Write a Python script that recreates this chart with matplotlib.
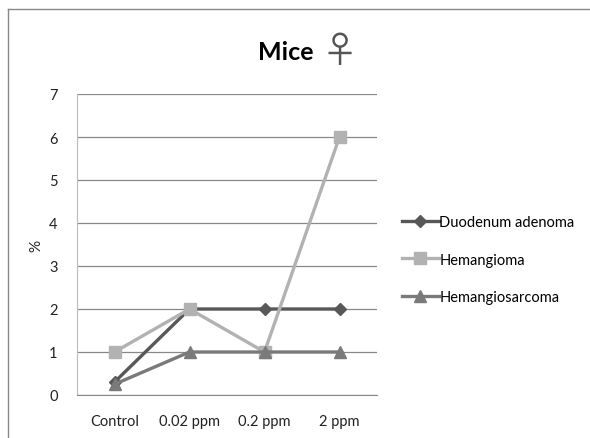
import matplotlib
matplotlib.use("Agg")
import matplotlib.pyplot as plt
from matplotlib.lines import Line2D

categories = ["Control", "0.02 ppm", "0.2 ppm", "2 ppm"]
duodenum_adenoma = [0.3, 2, 2, 2]
hemangioma = [1, 2, 1, 6]
hemangiosarcoma = [0.25, 1, 1, 1]
series_names = ["Duodenum adenoma", "Hemangioma", "Hemangiosarcoma"]

plt.rcParams["font.family"] = ["Lato", "DejaVu Sans"]

fig = plt.figure(figsize=(5.9, 4.39), dpi=100)
ax = fig.add_axes([77 / 590, 1 - 396 / 439, 300 / 590, 301 / 439])

x = list(range(len(categories)))
styles = [
    (duodenum_adenoma, "#585858", "D", 6.5),
    (hemangioma, "#b2b2b2", "s", 8.5),
    (hemangiosarcoma, "#7a7a7a", "^", 8.5),
]
for (vals, color, marker, ms), name in zip(styles, series_names):
    ax.plot(x, vals, color=color, lw=2.4, marker=marker, ms=ms,
            markeredgecolor=color, markerfacecolor=color, label=name)

ax.set_xlim(-0.5, len(categories) - 0.5)
ax.set_ylim(0, 7)
ax.set_yticks(range(8))
ax.set_xticks(x)
ax.set_xticklabels(categories)
ax.tick_params(length=0, labelsize=10.5, colors="#222222")
ax.tick_params(axis="x", pad=14)
ax.tick_params(axis="y", pad=14)
ax.grid(axis="y", color="#888888", lw=0.9)
ax.set_axisbelow(True)
for side in ["top", "right"]:
    ax.spines[side].set_visible(False)
ax.spines["left"].set_color("#bbbbbb")
ax.spines["bottom"].set_color("#888888")
ax.set_ylabel("%", fontsize=11, labelpad=4, color="#222222")

fig.text(0.531, 0.863, "Mice", fontsize=18, fontweight="bold", ha="right",
         va="baseline")
fig.text(0.545, 1 - 52 / 439, "\u2640", fontsize=26, ha="left", va="center",
         family=["Noto Sans CJK JP", "DejaVu Sans"], color="#555555")

ax.legend(loc="center left", bbox_to_anchor=(1.04, 0.45), frameon=False,
          fontsize=10.5, handlelength=2.5, handletextpad=0.05, labelspacing=1.6)

# outer chart border
fig.add_artist(Line2D([8 / 590, 8 / 590], [0, 1 - 10 / 439],
                      transform=fig.transFigure, color="#888888", lw=1))
fig.add_artist(Line2D([8 / 590, 1], [1 - 10 / 439, 1 - 10 / 439],
                      transform=fig.transFigure, color="#888888", lw=1))

fig.savefig("out.png", dpi=100)
